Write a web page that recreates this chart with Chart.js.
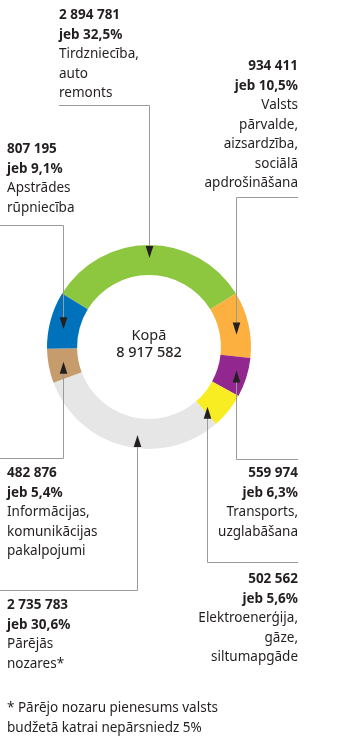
<!DOCTYPE html>
<html>
<head>
<meta charset="utf-8">
<script src="https://cdn.jsdelivr.net/npm/chart.js@4/dist/chart.umd.min.js"></script>
<style>
  html, body { margin: 0; padding: 0; background: #ffffff; }
  #wrap { width: 350px; height: 746px; position: relative; }
</style>
</head>
<body>
<div id="wrap"><canvas id="c" width="350" height="746"></canvas></div>
<script>
// ---- data ----
const categories = [
  ["Tirdzniecība,", "auto", "remonts"],
  ["Valsts", "pārvalde,", "aizsardzība,", "sociālā", "apdrošināšana"],
  ["Transports,", "uzglabāšana"],
  ["Elektroenerģija,", "gāze,", "siltumapgāde"],
  ["Pārējās", "nozares*"],
  ["Informācijas,", "komunikācijas", "pakalpojumi"],
  ["Apstrādes", "rūpniecība"]
];
const values = [2894781, 934411, 559974, 502562, 2735783, 482876, 807195];
const pctLabels = ["32,5%", "10,5%", "6,3%", "5,6%", "30,6%", "5,4%", "9,1%"];
const colors = ["#8dc63f", "#fbb040", "#92278f", "#f8ec23", "#e6e6e6", "#c69c6d", "#0072bc"];
const centerTitle = "Kopā";
const footnote = ["* Pārējo nozaru pienesums valsts", "budžetā katrai nepārsniedz 5%"];

// ---- annotation layout (positions only) ----
// t: position along arc (0..1), rf: radial fraction in ring, elbowY, lineEnd x, text anchor
const annoLayout = [
  { t: 0.50, rf: 0.57, elbowY: 105.5, lineEndX: 59,  textX: 59,  align: "left",  baseY: 19 },
  { t: 0.62, rf: 0.53, elbowY: 197.5, lineEndX: 298, textX: 298, align: "right", baseY: 70 },
  { t: 0.40, rf: 0.60, elbowY: 459.5, lineEndX: 298, textX: 298, align: "right", baseY: 477 },
  { t: 0.84, rf: 0.38, elbowY: 562.5, lineEndX: 298, textX: 298, align: "right", baseY: 583 },
  { t: 0.44, rf: 0.56, elbowY: 590.5, lineEndX: 0,   textX: 7,   align: "left",  baseY: 609 },
  { t: 0.55, rf: 0.51, elbowY: 458.5, lineEndX: 0,   textX: 7,   align: "left",  baseY: 477 },
  { t: 0.39, rf: 0.53, elbowY: 225.5, lineEndX: 0,   textX: 7,   align: "left",  baseY: 153 }
];

const FONT = '"Noto Sans", "Open Sans", sans-serif';
const TEXT = "#231f20";
const LINE = "#9a9a9a";
const LH = 19.5;
const FS = "13.5px ";

function fmt(n) {
  return String(n).replace(/\B(?=(\d{3})+(?!\d))/g, " ");
}
const total = values.reduce((a, b) => a + b, 0);
const rotationDeg = -(values[0] / total * 360) / 2;

const annotations = {
  id: "annotations",
  afterDraw(chart) {
    const ctx = chart.ctx;
    const meta = chart.getDatasetMeta(0);
    ctx.save();
    // center text
    const cx = meta.data[0].x, cy = meta.data[0].y;
    ctx.fillStyle = TEXT;
    ctx.textAlign = "center";
    ctx.textBaseline = "alphabetic";
    ctx.font = "14.5px " + FONT;
    ctx.fillText(centerTitle, cx, cy - 7);
    ctx.font = "500 14.5px " + FONT;
    ctx.fillText(fmt(total), cx, cy + 10);

    meta.data.forEach((arc, i) => {
      const L = annoLayout[i];
      const p = arc.getProps(["x", "y", "startAngle", "endAngle", "innerRadius", "outerRadius"], true);
      const ang = p.startAngle + L.t * (p.endAngle - p.startAngle);
      const r = p.innerRadius + L.rf * (p.outerRadius - p.innerRadius);
      const tx = Math.round(p.x + r * Math.cos(ang)) + 0.5;
      const ty = p.y + r * Math.sin(ang);
      const down = L.elbowY < ty;
      // connector
      ctx.strokeStyle = LINE;
      ctx.lineWidth = 1;
      ctx.beginPath();
      ctx.moveTo(L.lineEndX, L.elbowY);
      ctx.lineTo(tx, L.elbowY);
      ctx.lineTo(tx, down ? ty - 8 : ty + 8);
      ctx.stroke();
      // arrow head
      ctx.fillStyle = TEXT;
      ctx.beginPath();
      const dir = down ? -1 : 1;
      ctx.moveTo(tx, ty);
      ctx.lineTo(tx - 3.8, ty + dir * 12);
      ctx.lineTo(tx + 3.8, ty + dir * 12);
      ctx.closePath();
      ctx.fill();
      // text
      ctx.textAlign = L.align;
      ctx.fillStyle = TEXT;
      const lines = [
        { s: fmt(values[i]), b: true },
        { s: "jeb " + pctLabels[i], b: true }
      ].concat(categories[i].map(s => ({ s, b: false })));
      lines.forEach((ln, k) => {
        ctx.font = (ln.b ? "bold " : "") + FS + FONT;
        ctx.fillText(ln.s, L.textX, L.baseY + k * LH);
      });
    });

    // footnote
    ctx.textAlign = "left";
    ctx.font = FS + FONT;
    footnote.forEach((s, k) => ctx.fillText(s, 7, 712 + k * LH));
    ctx.restore();
  }
};

new Chart(document.getElementById("c"), {
  type: "doughnut",
  data: {
    labels: categories.map(c => c.join(" ")),
    datasets: [{
      data: values,
      backgroundColor: colors,
      borderWidth: 0
    }]
  },
  options: {
    responsive: false,
    animation: false,
    rotation: rotationDeg,
    cutout: "70.5%",
    layout: { padding: { left: 47, right: 99, top: 245, bottom: 297 } },
    plugins: { legend: { display: false }, tooltip: { enabled: false } }
  },
  plugins: [annotations]
});
</script>
</body>
</html>
